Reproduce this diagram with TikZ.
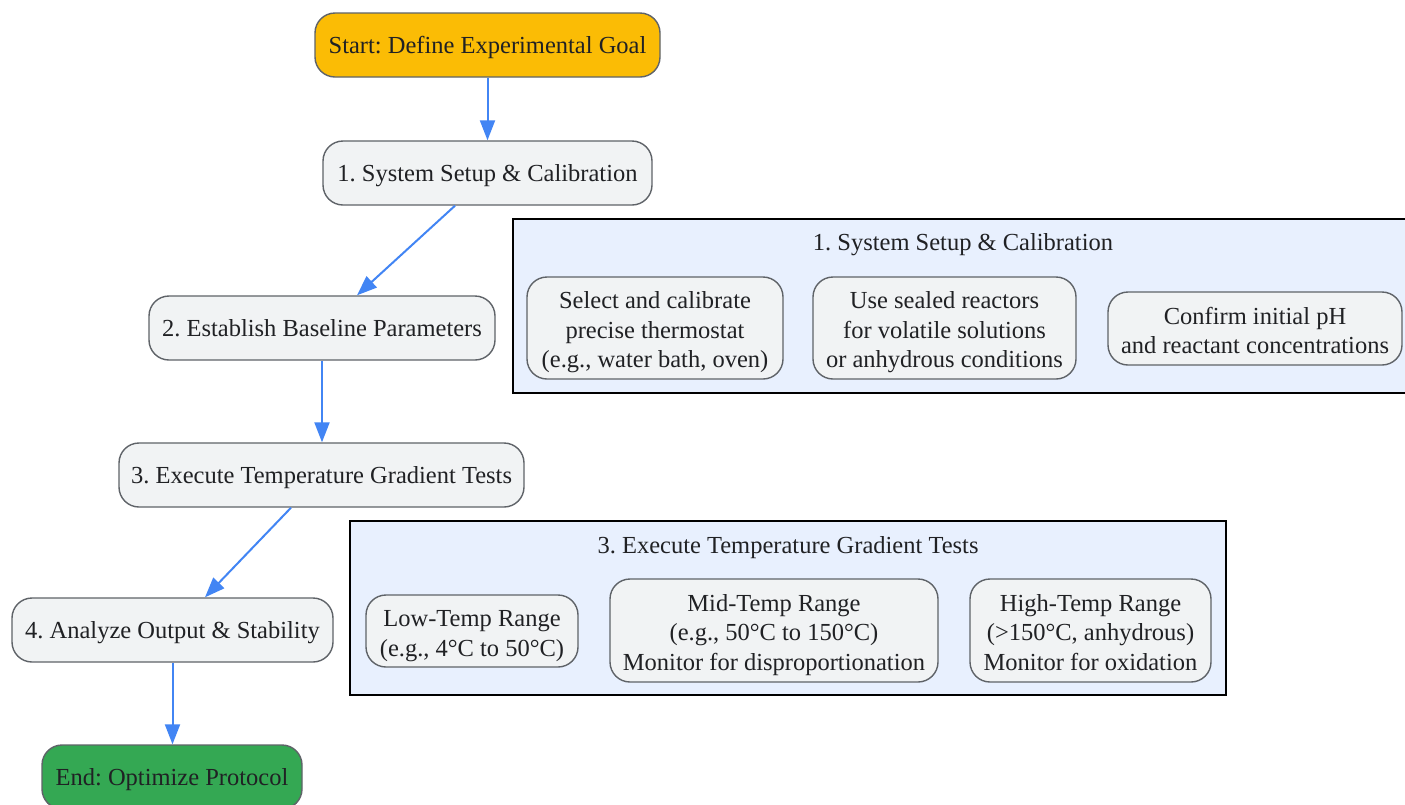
\documentclass[tikz,border=0pt]{standalone}
\usepackage{fontspec}
\setmainfont{Liberation Serif}
\usetikzlibrary{arrows.meta}
\frenchspacing
\definecolor{startc}{HTML}{FBBC05}
\definecolor{endc}{HTML}{34A853}
\definecolor{nodec}{HTML}{F1F3F4}
\definecolor{bordc}{HTML}{5F6368}
\definecolor{clusc}{HTML}{E8F0FE}
\definecolor{txtc}{HTML}{202124}
\definecolor{arrc}{HTML}{4285F4}
\newcommand\lst{\rule[-5.4pt]{0pt}{27.4pt}}
\newcommand\lstf{\rule[-5.4pt]{0pt}{31.4pt}}
\tikzset{
  box/.style={draw=bordc, line width=1.4pt, rounded corners=20pt, fill=nodec,
    text=txtc, align=center, inner sep=0pt, font=\fontsize{24.5}{29.5}\selectfont},
  clus/.style={draw=black, line width=1.5pt, fill=clusc},
  ctitle/.style={text=txtc, inner sep=0pt, font=\fontsize{24.5}{29.5}\selectfont},
  arr/.style={draw=arrc, line width=2pt, -{Triangle[length=20pt,width=15pt]}}
}
\begin{document}
\begin{tikzpicture}[x=1pt,y=-1pt]
\useasboundingbox[fill=white] (0,0) rectangle (1405,804);
% clusters
\draw[clus] (513,219) rectangle (1412,393);
\node[ctitle] (c1t) at (963,242) {\lst 1. System Setup \& Calibration};
\draw[clus] (350,521) rectangle (1226,695);
\node[ctitle] (c3t) at (788,545) {\lst 3. Execute Temperature Gradient Tests};
% main flow
\node[box, fill=startc, minimum width=345pt, minimum height=64pt] (start) at (487.5,45) {\lst Start: Define Experimental Goal};
\node[box, minimum width=329pt, minimum height=64pt] (s1) at (487.5,173) {\lst 1. System Setup \& Calibration};
\node[box, minimum width=346pt, minimum height=64pt] (s2) at (322,328) {\lst 2. Establish Baseline Parameters};
\node[box, minimum width=405pt, minimum height=64pt] (s3) at (321.5,475) {\lst 3. Execute Temperature Gradient Tests};
\node[box, minimum width=321pt, minimum height=64pt] (s4) at (172.5,630) {\lst 4. Analyze Output \& Stability};
\node[box, fill=endc, minimum width=260pt, minimum height=64pt] (end) at (172,777) {\lst End: Optimize Protocol};
% cluster 1 contents
\node[box, minimum width=256pt, minimum height=102pt] (a1) at (655,328) {\lstf Select and calibrate\\\lst precise thermostat\\\lst (e.g., water bath, oven)};
\node[box, minimum width=263pt, minimum height=102pt] (a2) at (944.5,328) {\lstf Use sealed reactors\\\lst for volatile solutions\\\lst or anhydrous conditions};
\node[box, minimum width=294pt, minimum height=73pt] (a3) at (1255,328.5) {\lstf Confirm initial pH\\\lst and reactant concentrations};
% cluster 3 contents
\node[box, minimum width=212pt, minimum height=72pt] (b1) at (472,631) {\lstf Low-Temp Range\\\lst (e.g., 4°C to 50°C)};
\node[box, minimum width=328pt, minimum height=103pt] (b2) at (774,630.5) {\lstf Mid-Temp Range\\\lst (e.g., 50°C to 150°C)\\\lst Monitor for disproportionation};
\node[box, minimum width=241pt, minimum height=103pt] (b3) at (1090.5,630.5) {\lstf High-Temp Range\\\lst (>150°C, anhydrous)\\\lst Monitor for oxidation};
% connectors
\draw[arr] (start) -- (s1);
\draw[arr] ([xshift=-32.5pt]s1.south) -- ([xshift=35pt]s2.north);
\draw[arr] (s2.south) -- (s2.south |- s3.north);
\draw[arr] ([xshift=-30.5pt]s3.south) -- ([xshift=32.5pt]s4.north);
\draw[arr] (s4.south) -- (s4.south |- end.north);
\end{tikzpicture}
\end{document}
